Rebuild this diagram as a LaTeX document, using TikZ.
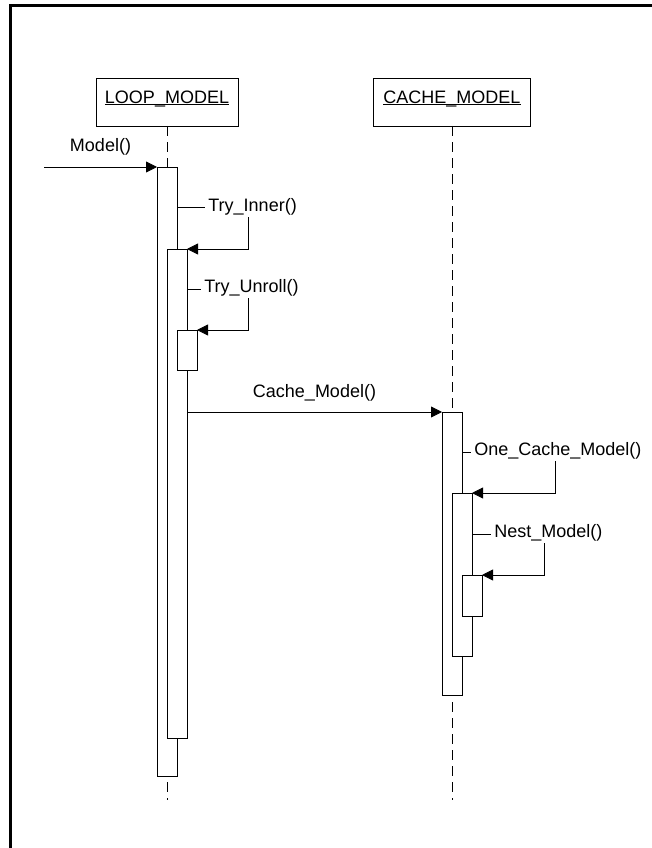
\documentclass[tikz,border=0pt]{standalone}
\usepackage{fontspec}
\setmainfont{Liberation Sans}
\usetikzlibrary{arrows.meta,positioning}

\tikzset{
  obj/.style={draw, rectangle, inner sep=0pt, outer sep=0pt, minimum height=48pt, text height=25pt, text depth=23pt, anchor=north},
  life/.style={dash pattern=on 10pt off 6pt},
  bar/.style={draw, fill=white, rectangle, inner sep=0pt, outer sep=0pt, minimum width=20pt, anchor=north},
  msg/.style={-{Triangle[length=11pt,width=11pt]}},
  lbl/.style={fill=white, inner xsep=3pt, inner ysep=2pt, anchor=base west},
}
\newcommand{\objname}[1]{\underline{\smash{#1}}}

\begin{document}
\begin{tikzpicture}[x=1pt, y=-1pt, line width=0.8pt, font=\fontsize{18}{21}\selectfont]
	\useasboundingbox (0,0) rectangle (652,848);
	%\draw[help lines] (0,0) grid[step=50] (652,848);
	\draw[line width=3pt] (10.5,848) -- (10.5,5.5) -- (652,5.5);

	\node[obj, minimum width=142pt] (loop) at (167,78) {\objname{LOOP\_MODEL}};
	\node[obj, minimum width=157pt] (cache) at (452,78) {\objname{CACHE\_MODEL}};
	\draw[life] (loop.south) -- ++(0,674);
	\draw[life] (cache.south) -- ++(0,674);

	\node[bar, minimum height=609pt] (a1) at (167,167) {};
	\node[bar, minimum height=489pt] (a2) at (177,249) {};
	\node[bar, minimum height=40pt] (a3) at (187,330) {};
	\node[bar, minimum height=283pt] (a4) at (452,412) {};
	\node[bar, minimum height=163pt] (a5) at (462,493) {};
	\node[bar, minimum height=41pt] (a6) at (472,575) {};

	\coordinate (src) at (44,167);
	\draw[msg] (src) -- (a1.north west) node[midway, anchor=base, yshift=16pt] {Model()};

	\draw[msg] ([yshift=-40pt]a1.north east) -| ([xshift=61pt]a2.north east) -- (a2.north east);
	\node[lbl] (tryinner) at (205,211) {Try\_Inner()};

	\draw[msg] ([yshift=-40pt]a2.north east) -| ([xshift=51pt]a3.north east) -- (a3.north east);
	\node[lbl] (tryunroll) at (201,292) {Try\_Unroll()};

	\draw[msg] (a2.east |- a4.north) -- (a4.north west) node[midway, anchor=base, yshift=15pt] {Cache\_Model()};

	\draw[msg] ([yshift=-40pt]a4.north east) -| ([xshift=83pt]a5.north east) -- (a5.north east);
	\node[lbl] (onecache) at (471,455) {One\_Cache\_Model()};

	\draw[msg] ([yshift=-41pt]a5.north east) -| ([xshift=62pt]a6.north east) -- (a6.north east);
	\node[lbl] (nest) at (491,537) {Nest\_Model()};
\end{tikzpicture}
\end{document}
